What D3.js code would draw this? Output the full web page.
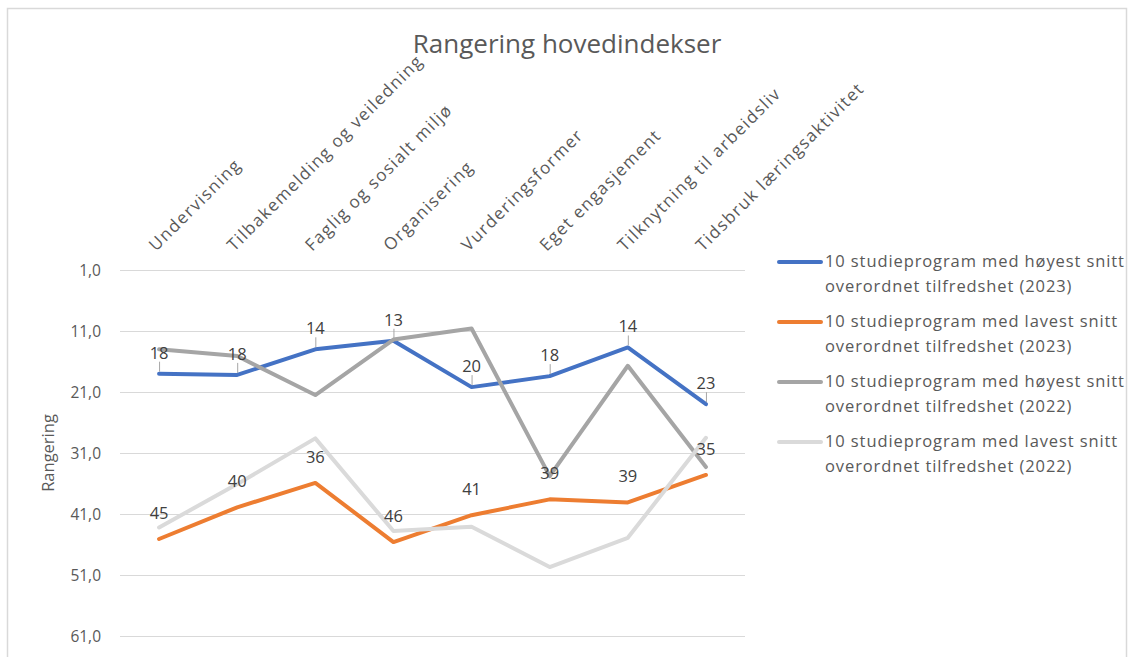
<!DOCTYPE html>
<html>
<head>
<meta charset="utf-8">
<script src="https://cdn.jsdelivr.net/npm/d3@7"></script>
<style>
  body { margin: 0; background: #fff; }
  svg { font-family: "Open Sans", "Liberation Sans", sans-serif; }
</style>
</head>
<body>
<svg id="chart" width="1131" height="657"></svg>
<script>
// categories along the (top) x axis
var categories = ["Undervisning", "Tilbakemelding og veiledning", "Faglig og sosialt miljø", "Organisering",
    "Vurderingsformer", "Eget engasjement", "Tilknytning til arbeidsliv", "Tidsbruk læringsaktivitet"];

// rank values
var high2023 = [18.0, 18.2, 14.0, 12.6, 20.2, 18.4, 13.7, 23.0];
var low2023 = [45.1, 39.9, 35.9, 45.6, 41.2, 38.6, 39.1, 34.6];
var high2022 = [14.0, 15.1, 21.5, 12.4, 10.6, 34.8, 16.7, 33.3];
var low2022 = [43.2, 36.1, 28.6, 43.8, 43.1, 49.7, 44.9, 28.5];

var seriesNames = [
    ["10 studieprogram med høyest snitt", "overordnet tilfredshet (2023)"],
    ["10 studieprogram med lavest snitt", "overordnet tilfredshet (2023)"],
    ["10 studieprogram med høyest snitt", "overordnet tilfredshet (2022)"],
    ["10 studieprogram med lavest snitt", "overordnet tilfredshet (2022)"]
];
var yTicks = [1, 11, 21, 31, 41, 51, 61];

var colors = ["#4472c4", "#ed7d31", "#a5a5a5", "#dadada"];
var series = [
    { values: high2023, labels: true, leader: true, offset: 21 },
    { values: low2023, labels: true, leader: false, offset: 26 },
    { values: high2022, labels: false },
    { values: low2022, labels: false }
];

var svg = d3.select("#chart");

// outer chart border + clip (legend text is cut at the right edge)
svg.append("clipPath").attr("id", "chartclip")
    .append("rect").attr("x", 7).attr("y", 8).attr("width", 1120).attr("height", 700);
svg.append("rect")
    .attr("x", 7.5).attr("y", 8.5).attr("width", 1119).attr("height", 700)
    .attr("fill", "#fff").attr("stroke", "#d9d9d9").attr("stroke-width", 1.5);

var g = svg.append("g").attr("clip-path", "url(#chartclip)");

var x = d3.scalePoint().domain(categories).range([120, 745]).padding(0.5);
var y = d3.scaleLinear().domain([1, 61]).range([270, 636]);

// title
g.append("text")
    .attr("x", 567).attr("y", 53)
    .attr("text-anchor", "middle")
    .attr("fill", "#595959")
    .style("font-size", "26px")
    .text("Rangering hovedindekser");

// gridlines
g.append("g").selectAll("line")
    .data(yTicks)
    .enter().append("line")
    .attr("x1", 120).attr("x2", 745)
    .attr("y1", d => Math.round(y(d)) + 0.5).attr("y2", d => Math.round(y(d)) + 0.5)
    .attr("stroke", "#d9d9d9").attr("stroke-width", 1);

// y axis tick labels
g.append("g").selectAll("text")
    .data(yTicks)
    .enter().append("text")
    .attr("x", 101).attr("y", d => y(d) + 5.5)
    .attr("text-anchor", "end")
    .attr("fill", "#595959")
    .style("font-size", "15.5px")
    .text(d => d3.format(".1f")(d).replace(".", ","));

// y axis title
g.append("text")
    .attr("transform", "translate(54," + y(31) + ") rotate(-90)")
    .attr("text-anchor", "middle")
    .attr("fill", "#595959")
    .style("font-size", "16.5px")
    .text("Rangering");

// category labels, rotated
g.append("g").selectAll("text")
    .data(categories)
    .enter().append("text")
    .attr("transform", d => "translate(" + (x(d) - 3) + ",252) rotate(-45)")
    .attr("fill", "#595959")
    .style("font-size", "17px")
    .style("letter-spacing", "1.4px")
    .text(d => d);

// lines
var line = d3.line()
    .x((d, i) => x(categories[i]))
    .y(d => y(d));

series.forEach(function(s, k) {
    g.append("path")
        .datum(s.values)
        .attr("d", line)
        .attr("fill", "none")
        .attr("stroke", colors[k])
        .attr("stroke-width", 4)
        .attr("stroke-linejoin", "round")
        .attr("stroke-linecap", "round");
});

// data labels (on top of every line)
series.forEach(function(s, k) {
    if (!s.labels) return;
    var lg = g.append("g");
    s.values.forEach(function(v, i) {
        var cx = x(categories[i]);
        if (s.leader) {
            lg.append("line")
                .attr("x1", cx + 0.5).attr("x2", cx + 0.5)
                .attr("y1", y(v) - s.offset + 9).attr("y2", y(v) - 2)
                .attr("stroke", "#a6a6a6").attr("stroke-width", 1);
        }
        lg.append("text")
            .attr("x", cx).attr("y", y(v) - s.offset + 6)
            .attr("text-anchor", "middle")
            .attr("fill", "#404040")
            .style("font-size", "16.5px")
            .text(Math.round(v));
    });
});

// legend
var legend = g.append("g");
seriesNames.forEach(function(name, k) {
    var ly = 262 + k * 60;
    legend.append("line")
        .attr("x1", 779).attr("x2", 821)
        .attr("y1", ly).attr("y2", ly)
        .attr("stroke", colors[k]).attr("stroke-width", 4)
        .attr("stroke-linecap", "round");
    name.forEach(function(t, j) {
        legend.append("text")
            .attr("x", 825).attr("y", ly + 5 + j * 25)
            .attr("fill", "#595959")
            .style("font-size", "16.5px")
            .style("letter-spacing", "0.9px")
            .text(t);
    });
});
</script>
</body>
</html>
